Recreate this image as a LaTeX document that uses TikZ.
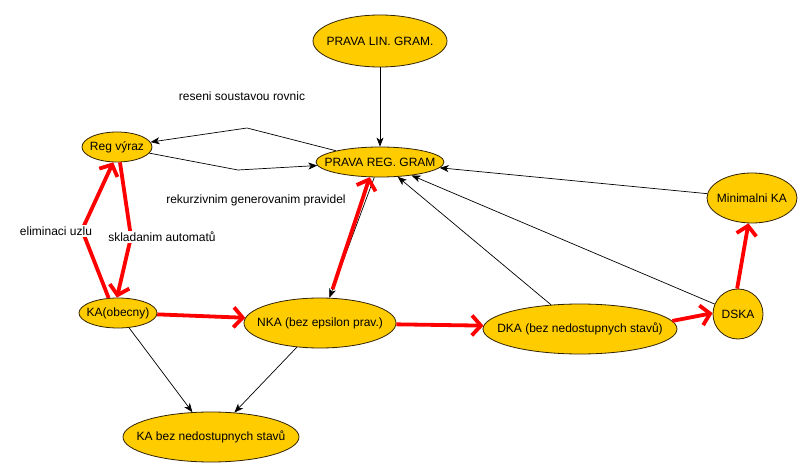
\documentclass[tikz,border=0pt]{standalone}
\usepackage{fontspec}
\setmainfont{Liberation Sans}
\usetikzlibrary{shapes.geometric,arrows.meta}
\definecolor{gold}{RGB}{255,204,0}
\definecolor{rim}{RGB}{50,35,0}
\definecolor{pen}{RGB}{255,0,0}
\begin{document}
\begin{tikzpicture}[x=1pt,y=-1pt,
  font=\fontsize{12}{14}\selectfont,
  state/.style={ellipse,draw=rim,line width=0.8pt,fill=gold,inner sep=0pt},
  edge/.style={-{Stealth[length=9pt,width=7pt,inset=2.5pt]},line width=0.7pt,black},
  redpen/.style={draw=pen,line width=3.8pt,line join=round},
  redtip/.style={-{Straight Barb[length=9pt,width=20pt]}},
  note/.style={fill=white,inner sep=1.5pt}
]
\useasboundingbox[fill=white] (0,0) rectangle (812,476);

% states
\node[state,minimum width=134pt,minimum height=52pt,label=center:{PRAVA LIN. GRAM.}] (plg) at (380,41) {};
\node[state,minimum width=128pt,minimum height=30pt,label=center:{PRAVA REG. GRAM}] (prg) at (380,162) {};
\node[state,minimum width=70pt,minimum height=30pt,label=center:{Reg výraz}] (rv) at (117,147) {};
\node[state,minimum width=78pt,minimum height=30pt,label=center:{KA(obecny)}] (ka) at (118,313) {};
\node[state,minimum width=152pt,minimum height=50pt,label=center:{NKA (bez epsilon prav.)}] (nka) at (320,323) {};
\node[state,minimum width=176pt,minimum height=50pt,label=center:{KA bez nedostupnych stavů}] (kab) at (211,437) {};
\node[state,minimum width=194pt,minimum height=50pt,label=center:{DKA (bez nedostupnych stavů)}] (dka) at (580,329) {};
\node[state,minimum width=50pt,minimum height=50pt,label=center:{DSKA}] (dska) at (738,314) {};
\node[state,minimum width=90pt,minimum height=50pt,label=center:{Minimalni KA}] (mka) at (752,198) {};

% bend points
\coordinate (k1) at (247,128);
\coordinate (k2) at (238,170);
\coordinate (r1) at (82,230);
\coordinate (r2) at (131,237);

% black transitions
\draw[edge] (plg) -- (prg);
\draw[edge] (prg) -- (k1) -- (rv);
\draw[edge] (rv) -- (k2) -- (prg);
\draw[edge] (mka) -- (prg);
\draw[edge] (dska) -- (prg);
\draw[edge] (dka) -- (prg);
\draw[edge] (prg) -- (nka);
\draw[edge] (ka) -- (kab);
\draw[edge] (nka) -- (kab);

% red conversions
\draw[redpen,redtip] (ka.122) -- (r1) -- (rv.256);
\draw[redpen,redtip] (rv.281) -- (r2) -- (ka.94);
\draw[redpen,redtip,shorten <=9pt] (nka.69) -- (prg.236);
\draw[redpen,redtip] (ka.358) -- (nka.176);
\draw[redpen,redtip] (nka.359) -- (dka.178);
\draw[redpen,redtip] (dka.5) -- (dska.178);
\draw[redpen,redtip] (dska.92) -- (mka.262);

% method labels
\node[note] (l1) at (242,96) {reseni soustavou rovnic};
\node[note] (l2) at (256,200) {rekurzivnim generovanim pravidel};
\node[note] (l3) at (56,231) {eliminaci uzlu};
\node[note] (l4) at (162,237) {skladanim automatů};
\end{tikzpicture}
\end{document}
